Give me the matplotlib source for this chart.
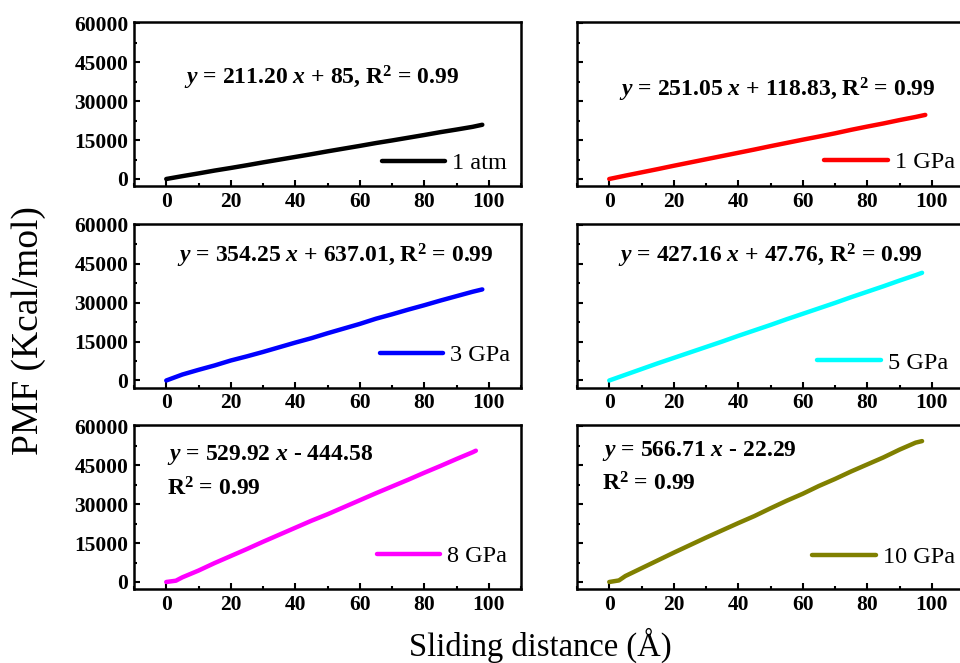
import matplotlib
matplotlib.use("Agg")
import matplotlib.pyplot as plt
from matplotlib.ticker import MultipleLocator

plt.rcParams['font.family'] = ['Liberation Serif', 'DejaVu Serif']
plt.rcParams['mathtext.fontset'] = 'custom'
plt.rcParams['mathtext.rm'] = 'Liberation Serif:bold'
plt.rcParams['mathtext.it'] = 'Liberation Serif:bold:italic'
plt.rcParams['mathtext.bf'] = 'Liberation Serif:bold'

labels = ["1 atm", "1 GPa", "3 GPa", "5 GPa", "8 GPa", "10 GPa"]
colors = ["#000000", "#ff0000", "#0000ff", "#00ffff", "#ff00ff", "#808000"]

x_1atm = [0, 5, 10, 15, 20, 25, 30, 35, 40, 45, 50, 55, 60, 65, 70, 75, 80, 85, 90, 95, 98]
y_1atm = [0, 1100, 2150, 3250, 4250, 5300, 6400, 7450, 8500, 9550, 10650, 11700, 12750, 13850, 14850, 15900, 16950, 18050, 19050, 20100, 20900]

x_1gpa = [0, 5, 10, 15, 20, 25, 30, 35, 40, 45, 50, 55, 60, 65, 70, 75, 80, 85, 90, 95, 98]
y_1gpa = [0, 1300, 2550, 3800, 5100, 6350, 7600, 8850, 10100, 11350, 12650, 13900, 15150, 16350, 17600, 18950, 20200, 21400, 22700, 23900, 24700]

x_3gpa = [0, 5, 10, 15, 20, 25, 30, 35, 40, 45, 50, 55, 60, 65, 70, 75, 80, 85, 90, 95, 98]
y_3gpa = [0, 2300, 4100, 5800, 7700, 9300, 11000, 12800, 14600, 16300, 18200, 20000, 21800, 23800, 25500, 27300, 29000, 30800, 32500, 34200, 35100]

x_5gpa = [0, 5, 10, 15, 20, 25, 30, 35, 40, 45, 50, 55, 60, 65, 70, 75, 80, 85, 90, 95, 97]
y_5gpa = [0, 2200, 4400, 6600, 8700, 10800, 12900, 15000, 17200, 19300, 21400, 23600, 25700, 27800, 29900, 32100, 34200, 36300, 38500, 40600, 41500]

x_8gpa = [0, 3, 5, 10, 15, 20, 25, 30, 35, 40, 45, 50, 55, 60, 65, 70, 75, 80, 85, 90, 95, 96]
y_8gpa = [0, 500, 1800, 4400, 7300, 10000, 12700, 15500, 18200, 20900, 23600, 26100, 28800, 31500, 34200, 36800, 39400, 42100, 44700, 47400, 50000, 50600]

x_10gpa = [0, 3, 5, 10, 15, 20, 25, 30, 35, 40, 45, 50, 55, 60, 65, 70, 75, 80, 85, 90, 95, 97]
y_10gpa = [0, 600, 2300, 5300, 8300, 11300, 14200, 17100, 19900, 22700, 25400, 28400, 31300, 34000, 37000, 39700, 42600, 45300, 48000, 51000, 53700, 54300]

xs = [x_1atm, x_1gpa, x_3gpa, x_5gpa, x_8gpa, x_10gpa]
ys = [y_1atm, y_1gpa, y_3gpa, y_5gpa, y_8gpa, y_10gpa]

eq1 = [r"$y$ = 211.20 $x$ + 85, R$^{2}$ = 0.99",
       r"$y$ = 251.05 $x$ + 118.83, R$^{2}$ = 0.99",
       r"$y$ = 354.25 $x$ + 637.01, R$^{2}$ = 0.99",
       r"$y$ = 427.16 $x$ + 47.76, R$^{2}$ = 0.99",
       r"$y$ = 529.92 $x$ - 444.58",
       r"$y$ = 566.71 $x$ - 22.29"]
eq2 = [None, None, None, None, r"R$^{2}$ = 0.99", r"R$^{2}$ = 0.99"]

W, H = 960, 663
fig = plt.figure(figsize=(W / 100, H / 100), dpi=100)

col_left = [134, 577]
ax_w = 387
row_top = [22, 223.5, 425]
ax_h = 164

eq_pos = [(0.486, 0.66, 'center'), (0.517, 0.585, 'center'),
          (0.519, 0.80, 'center'), (0.50, 0.80, 'center'),
          (0.085, 0.82, 'left'), (0.065, 0.84, 'left')]
eq2_pos = [None, None, None, None, (0.085, 0.61), (0.065, 0.64)]
leg_pos = [(0.964, 0.14), (0.977, 0.146), (0.972, 0.198),
           (0.959, 0.15), (0.964, 0.20), (0.977, 0.195)]

for i in range(6):
    r, c = divmod(i, 2)
    l = col_left[c]
    t = row_top[r]
    ax = fig.add_axes([l / W, 1 - (t + ax_h) / H, ax_w / W, ax_h / H])
    ax.plot(xs[i], ys[i], color=colors[i], lw=3.2, label=labels[i], solid_capstyle='round')
    ax.set_xlim(-10, 110)
    ax.set_ylim(-2700, 60500)
    ax.xaxis.set_major_locator(MultipleLocator(20))
    ax.xaxis.set_minor_locator(MultipleLocator(10))
    ax.yaxis.set_major_locator(MultipleLocator(15000))
    ax.yaxis.set_minor_locator(MultipleLocator(7500))
    ax.tick_params(axis='both', which='both', direction='in', top=False, right=False,
                   width=1.5)
    ax.tick_params(axis='both', which='major', length=4, labelsize=15.5, pad=4)
    ax.tick_params(axis='both', which='minor', length=2.5)
    for lab in ax.get_xticklabels() + ax.get_yticklabels():
        lab.set_fontweight('bold')
    if c == 1:
        ax.set_yticklabels([])
    for s in ax.spines.values():
        s.set_linewidth(1.8)
    ex, ey, ha = eq_pos[i]
    ax.text(ex, ey, eq1[i], transform=ax.transAxes, ha=ha, va='center',
            fontsize=17, fontweight='bold')
    if eq2[i]:
        ax.text(eq2_pos[i][0], eq2_pos[i][1], eq2[i], transform=ax.transAxes,
                ha='left', va='center', fontsize=17, fontweight='bold')
    ax.legend(loc='center right', bbox_to_anchor=leg_pos[i], frameon=False,
              fontsize=17.5, handlelength=2.6, handletextpad=0.3,
              borderaxespad=0, borderpad=0)

fig.text(29 / W, 1 - 331 / H, "PMF (Kcal/mol)", rotation=90, ha='center', va='center', fontsize=27)
fig.text(540 / W, 1 - 645 / H, "Sliding distance (Å)", ha='center', va='center', fontsize=23.5)

fig.savefig("out.png", dpi=100)
